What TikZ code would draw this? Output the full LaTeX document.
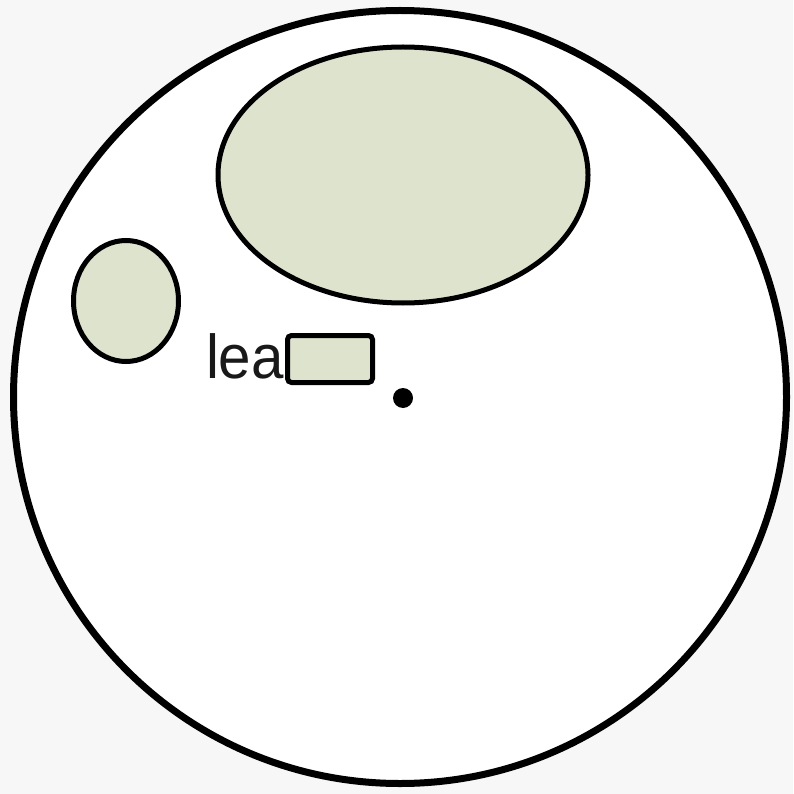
\documentclass[tikz,border=0pt]{standalone}
\usepackage{fontspec}
\setmainfont{Liberation Sans}
\usetikzlibrary{shapes.geometric}
\definecolor{bg}{RGB}{247,247,247}
\definecolor{leaf}{RGB}{221,227,204}
\tikzset{
  blob/.style={draw=black, fill=leaf, line width=5pt},
  outer/.style={draw=black, fill=white, line width=7pt}
}
\begin{document}
\begin{tikzpicture}[x=1pt,y=-1pt]
\fill[bg] (0,0) rectangle (793,794);
\useasboundingbox (0,0) rectangle (793,794);
\node[outer, circle, minimum size=773pt, inner sep=0pt] (cell) at (400,397) {};
\node[blob, ellipse, minimum width=370pt, minimum height=256pt, inner sep=0pt] (big) at (403,175) {};
\node[blob, ellipse, minimum width=105pt, minimum height=121pt, inner sep=0pt] (small) at (126,301) {};
\node[blob, rectangle, rounded corners=4pt, minimum width=85pt, minimum height=47pt, inner sep=0pt] (box) at (330,359) {};
\node[fill=black, circle, minimum size=20pt, inner sep=0pt] (dot) at (403,398) {};
\node[anchor=base east, inner sep=0pt, font=\fontsize{62}{62}\selectfont, xscale=0.94, text=black!90] (lbl) at (284,378) {lea};
\end{tikzpicture}
\end{document}
